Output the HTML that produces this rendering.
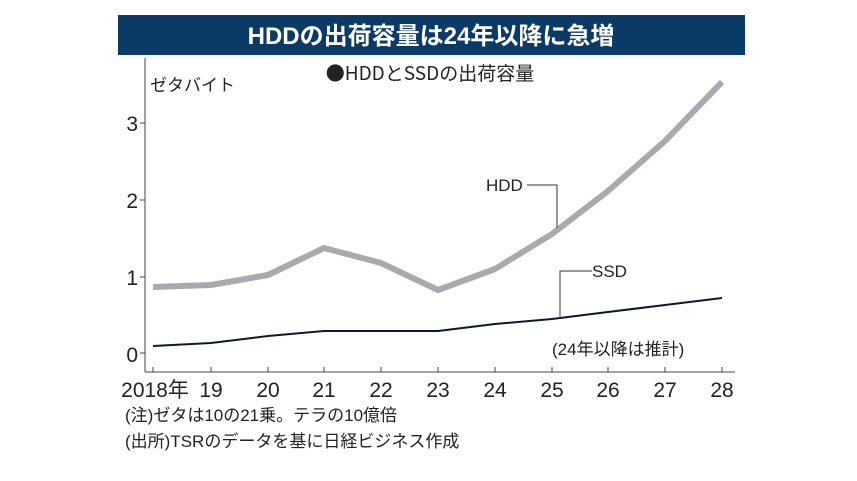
<!DOCTYPE html>
<html><head><meta charset="utf-8"><style>
body{margin:0;background:#fff;width:857px;height:476px;overflow:hidden;font-family:"Liberation Sans","Noto Sans CJK JP",sans-serif}
</style></head><body>
<svg width="857" height="476" xmlns="http://www.w3.org/2000/svg" style="font-family:'Liberation Sans','Noto Sans CJK JP',sans-serif">
<rect x="118" y="15" width="627" height="40" fill="#0b3a66"/>
<text x="431" y="44" fill="#fff" font-size="24" font-weight="bold" text-anchor="middle">HDDの出荷容量は24年以降に急増</text>
<text x="430" y="80" font-size="19" text-anchor="middle" fill="#222" font-family="Noto Sans CJK JP,sans-serif">●HDDとSSDの出荷容量</text>
<text x="150" y="91" font-size="17" fill="#222">ゼタバイト</text>
<line x1="145" y1="58" x2="145" y2="372" stroke="#444" stroke-width="1"/>
<line x1="145" y1="372" x2="735" y2="372" stroke="#444" stroke-width="1"/>
<g font-size="21" fill="#222" text-anchor="end">
<text x="138" y="131">3</text><text x="138" y="208">2</text><text x="138" y="285">1</text><text x="138" y="362">0</text>
</g>
<g stroke="#444"><line x1="140" y1="123" x2="145" y2="123"/><line x1="140" y1="200" x2="145" y2="200"/><line x1="140" y1="277" x2="145" y2="277"/><line x1="140" y1="353" x2="145" y2="353"/>
<line x1="153" y1="367" x2="153" y2="372"/><line x1="211" y1="367" x2="211" y2="372"/><line x1="268" y1="367" x2="268" y2="372"/><line x1="324" y1="367" x2="324" y2="372"/><line x1="381" y1="367" x2="381" y2="372"/><line x1="438" y1="367" x2="438" y2="372"/><line x1="495" y1="367" x2="495" y2="372"/><line x1="552" y1="367" x2="552" y2="372"/><line x1="608" y1="367" x2="608" y2="372"/><line x1="665" y1="367" x2="665" y2="372"/><line x1="722" y1="367" x2="722" y2="372"/></g>
<g font-size="21" fill="#222" text-anchor="middle">
<text x="155" y="397">2018年</text><text x="211" y="397">19</text><text x="268" y="397">20</text><text x="324" y="397">21</text><text x="381" y="397">22</text><text x="438" y="397">23</text><text x="495" y="397">24</text><text x="552" y="397">25</text><text x="608" y="397">26</text><text x="665" y="397">27</text><text x="722" y="397">28</text>
</g>
<polyline fill="none" stroke="#a9a9b0" stroke-width="6" stroke-linejoin="round" points="153,287 211,285 268,275 324,248 381,263 438,290 495,269 552,234 608,191 665,141 722,82"/>
<polyline fill="none" stroke="#0a1a30" stroke-width="2" points="153,346 211,343 268,336 324,331 381,331 438,331 495,324 552,319 608,312 665,305 722,298"/>
<polyline fill="none" stroke="#333" stroke-width="1" points="527,185 557,185 557,228"/>
<polyline fill="none" stroke="#333" stroke-width="1" points="592,271 560,271 560,318"/>
<text x="486" y="191" font-size="17" fill="#222">HDD</text>
<text x="592" y="277" font-size="17" fill="#222">SSD</text>
<text x="552" y="355" font-size="17" fill="#222">(24年以降は推計)</text>
<text x="125" y="421" font-size="17" fill="#222">(注)ゼタは10の21乗。テラの10億倍</text>
<text x="125" y="447" font-size="17" fill="#222">(出所)TSRのデータを基に日経ビジネス作成</text>
</svg>
</body></html>
